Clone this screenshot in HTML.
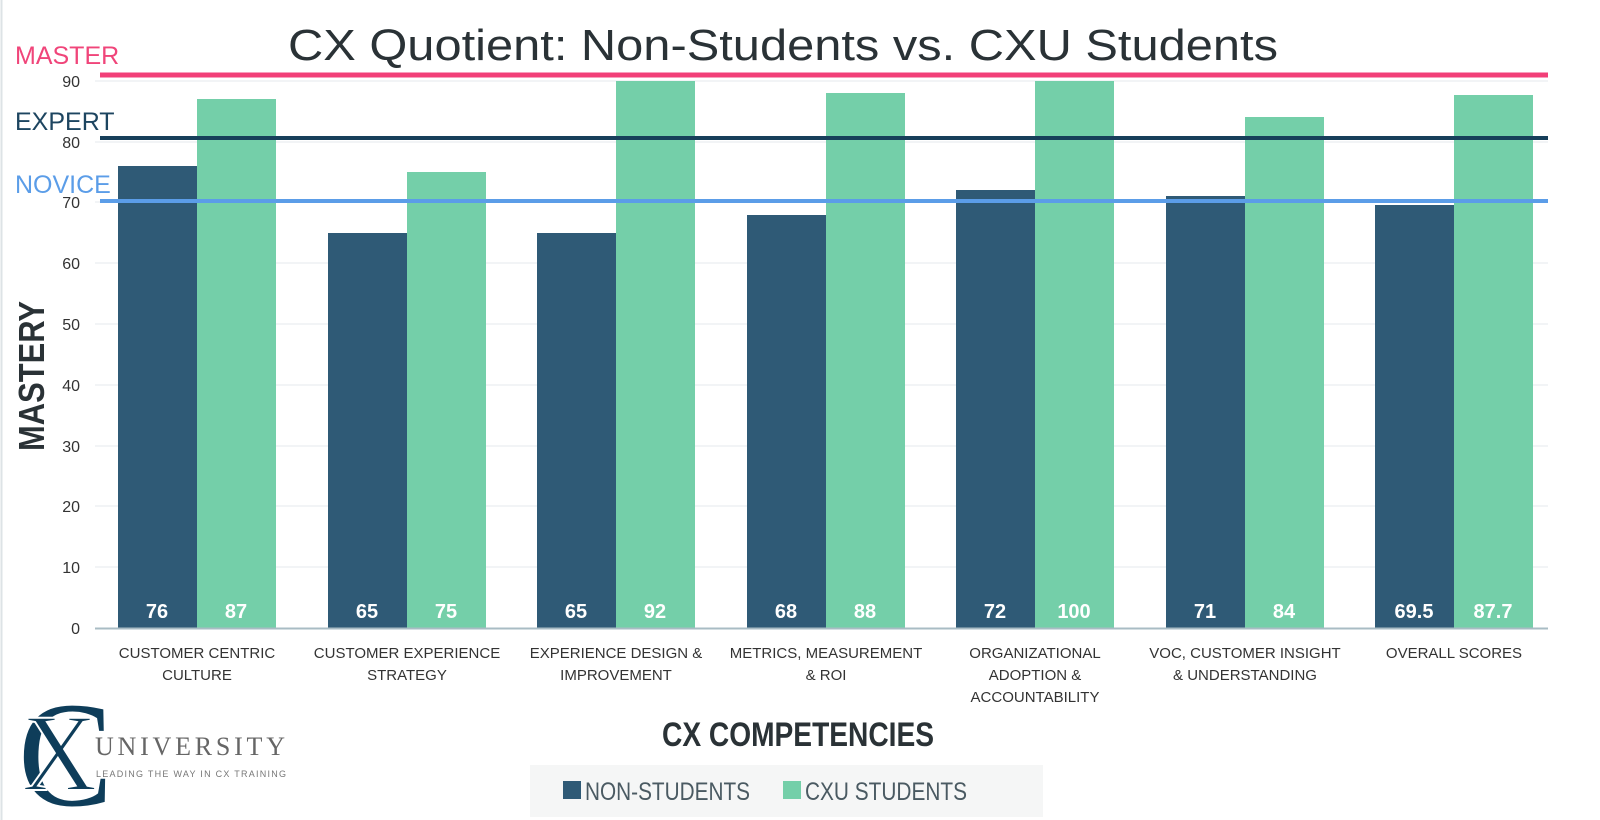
<!DOCTYPE html>
<html><head><meta charset="utf-8"><style>
html,body{margin:0;padding:0;background:#fff;}
svg{display:block;}
text{font-family:"Liberation Sans",sans-serif;}
</style></head><body>
<svg width="1600" height="820" viewBox="0 0 1600 820" xmlns="http://www.w3.org/2000/svg">
<rect width="1600" height="820" fill="#fff"/>
<line x1="1.5" y1="0" x2="1.5" y2="820" stroke="#dde3e6" stroke-width="2"/>
<text x="783" y="60" text-anchor="middle" font-size="44" fill="#2a3236" textLength="990" lengthAdjust="spacingAndGlyphs">CX Quotient: Non-Students vs. CXU Students</text>
<g stroke="#e6eaec" stroke-width="1">
<line x1="95" y1="567" x2="1548" y2="567"/><line x1="95" y1="506" x2="1548" y2="506"/>
<line x1="95" y1="446" x2="1548" y2="446"/><line x1="95" y1="385" x2="1548" y2="385"/>
<line x1="95" y1="324" x2="1548" y2="324"/><line x1="95" y1="263" x2="1548" y2="263"/>
<line x1="95" y1="202" x2="1548" y2="202"/><line x1="95" y1="142" x2="1548" y2="142"/>
<line x1="95" y1="81" x2="1548" y2="81"/>
</g>
<g font-size="16" fill="#333" text-anchor="end">
<text x="80" y="634">0</text><text x="80" y="573">10</text><text x="80" y="512">20</text>
<text x="80" y="452">30</text><text x="80" y="391">40</text><text x="80" y="330">50</text>
<text x="80" y="269">60</text><text x="80" y="208">70</text><text x="80" y="148">80</text>
<text x="80" y="87">90</text>
</g>
<g>
<rect x="118" y="166" width="79" height="462" fill="#2f5a76"/><rect x="197" y="99" width="79" height="529" fill="#74cfa9"/>
<rect x="328" y="233" width="79" height="395" fill="#2f5a76"/><rect x="407" y="172" width="79" height="456" fill="#74cfa9"/>
<rect x="537" y="233" width="79" height="395" fill="#2f5a76"/><rect x="616" y="81" width="79" height="547" fill="#74cfa9"/>
<rect x="747" y="215" width="79" height="413" fill="#2f5a76"/><rect x="826" y="93" width="79" height="535" fill="#74cfa9"/>
<rect x="956" y="190" width="79" height="438" fill="#2f5a76"/><rect x="1035" y="81" width="79" height="547" fill="#74cfa9"/>
<rect x="1166" y="196" width="79" height="432" fill="#2f5a76"/><rect x="1245" y="117" width="79" height="511" fill="#74cfa9"/>
<rect x="1375" y="205" width="79" height="423" fill="#2f5a76"/><rect x="1454" y="95" width="79" height="533" fill="#74cfa9"/>
</g>
<line x1="95" y1="628.5" x2="1548" y2="628.5" stroke="#a9bcc4" stroke-width="2"/>
<g font-size="20" fill="#fff" text-anchor="middle" font-weight="bold">
<text x="157" y="618">76</text><text x="236" y="618">87</text>
<text x="367" y="618">65</text><text x="446" y="618">75</text>
<text x="576" y="618">65</text><text x="655" y="618">92</text>
<text x="786" y="618">68</text><text x="865" y="618">88</text>
<text x="995" y="618">72</text><text x="1074" y="618">100</text>
<text x="1205" y="618">71</text><text x="1284" y="618">84</text>
<text x="1414" y="618">69.5</text><text x="1493" y="618">87.7</text>
</g>
<line x1="100" y1="75" x2="1548" y2="75" stroke="#f23f78" stroke-width="5"/>
<line x1="100" y1="138" x2="1548" y2="138" stroke="#173f5a" stroke-width="4"/>
<line x1="100" y1="201" x2="1548" y2="201" stroke="#5b9de8" stroke-width="4"/>
<text x="15" y="64" font-size="25" fill="#f0457a">MASTER</text>
<text x="15" y="130" font-size="25" fill="#1d4560">EXPERT</text>
<text x="15" y="193" font-size="25" fill="#5b9de8">NOVICE</text>
<g font-size="15" fill="#333" text-anchor="middle">
<text x="197" y="658">CUSTOMER CENTRIC</text><text x="197" y="680">CULTURE</text>
<text x="407" y="658">CUSTOMER EXPERIENCE</text><text x="407" y="680">STRATEGY</text>
<text x="616" y="658">EXPERIENCE DESIGN &amp;</text><text x="616" y="680">IMPROVEMENT</text>
<text x="826" y="658">METRICS, MEASUREMENT</text><text x="826" y="680">&amp; ROI</text>
<text x="1035" y="658">ORGANIZATIONAL</text><text x="1035" y="680">ADOPTION &amp;</text><text x="1035" y="702">ACCOUNTABILITY</text>
<text x="1245" y="658">VOC, CUSTOMER INSIGHT</text><text x="1245" y="680">&amp; UNDERSTANDING</text>
<text x="1454" y="658">OVERALL SCORES</text>
</g>
<text transform="translate(44,376) rotate(-90)" text-anchor="middle" font-size="36" font-weight="bold" fill="#2a3236" textLength="150" lengthAdjust="spacingAndGlyphs">MASTERY</text>
<text x="798" y="746" text-anchor="middle" font-size="34" font-weight="bold" fill="#2a3236" textLength="272" lengthAdjust="spacingAndGlyphs">CX COMPETENCIES</text>
<rect x="530" y="765" width="513" height="52" fill="#f5f6f6"/>
<rect x="563" y="781" width="18" height="18" fill="#2f5a76"/>
<text x="585" y="800" font-size="25" fill="#4a5a62" textLength="165" lengthAdjust="spacingAndGlyphs">NON-STUDENTS</text>
<rect x="783" y="781" width="18" height="18" fill="#74cfa9"/>
<text x="805" y="800" font-size="25" fill="#4a5a62" textLength="162" lengthAdjust="spacingAndGlyphs">CXU STUDENTS</text>
<g>
<text x="18" y="805" style="font-family:'Liberation Serif',serif" font-size="150" fill="#0e3d5a" textLength="95" lengthAdjust="spacingAndGlyphs">C</text>
<text x="22" y="790" style="font-family:'Liberation Serif',serif" font-size="110" fill="#0e3d5a" stroke="#fff" stroke-width="2" textLength="75" lengthAdjust="spacingAndGlyphs">X</text>
<text x="95" y="755" style="font-family:'Liberation Serif',serif" font-size="26" fill="#666" textLength="190" lengthAdjust="spacing">UNIVERSITY</text>
<text x="96" y="777" font-size="9" fill="#777" textLength="190" lengthAdjust="spacing">LEADING THE WAY IN CX TRAINING</text>
</g>
</svg>
</body></html>
